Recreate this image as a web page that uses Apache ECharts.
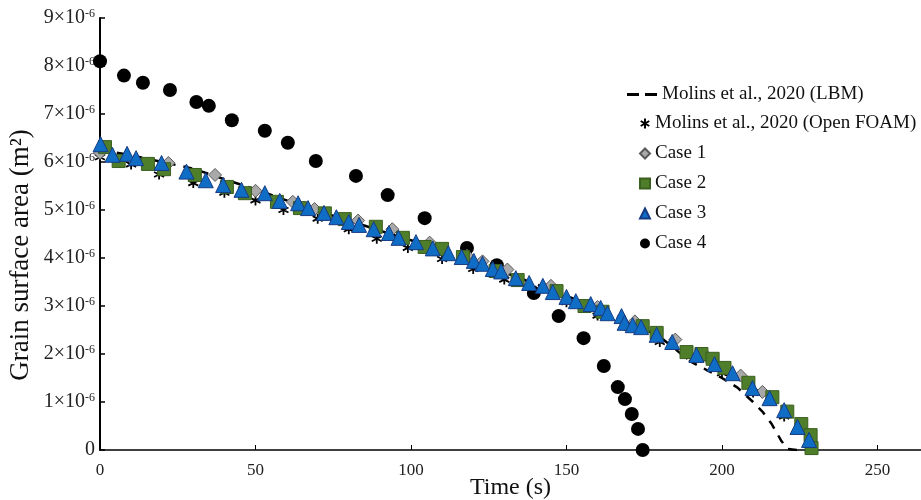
<!DOCTYPE html>
<html>
<head>
<meta charset="utf-8">
<script src="https://cdn.jsdelivr.net/npm/echarts@6/dist/echarts.min.js"></script>
<style>html,body{margin:0;padding:0;background:#fff}#c{width:921px;height:500px}</style>
</head>
<body>
<div id="c"></div>
<script>
// Values: time in s, area in units of 1e-6 m^2
const seriesNames = ['Molins et al., 2020 (LBM)', 'Molins et al., 2020 (Open FOAM)', 'Case 1', 'Case 2', 'Case 3', 'Case 4'];
const xTicks = [0, 50, 100, 150, 200, 250];
const yTicks = [0, 1, 2, 3, 4, 5, 6, 7, 8, 9];

const lbmTime = [0, 10, 20, 30, 40, 50, 60, 70, 80, 90, 100, 110, 120, 130, 140, 150, 160, 170, 180, 185, 190, 195, 200, 205, 210, 213, 216, 219, 221, 224, 228];
const lbmArea = [6.25, 6.14, 6.0, 5.86, 5.64, 5.43, 5.2, 4.98, 4.78, 4.57, 4.37, 4.15, 3.93, 3.7, 3.46, 3.21, 2.96, 2.68, 2.36, 2.1, 1.84, 1.67, 1.5, 1.3, 1.0, 0.8, 0.54, 0.2, 0.02, 0, 0];

const foamTime = [0, 10, 19, 30, 40, 50, 59, 70, 80, 89, 99, 110, 120, 130, 140, 150, 160, 170, 180, 190, 200, 210, 220];
const foamArea = [6.1, 5.95, 5.74, 5.56, 5.36, 5.2, 5.0, 4.82, 4.6, 4.4, 4.21, 3.98, 3.77, 3.55, 3.32, 3.08, 2.8, 2.55, 2.25, 1.95, 1.6, 1.2, 0.7];

const case1Time = [0, 22, 37, 50, 62, 69, 83, 94, 106, 118, 123, 131, 145, 160, 172, 185, 195, 206, 213];
const case1Area = [6.19, 5.98, 5.73, 5.4, 5.17, 5.02, 4.78, 4.6, 4.32, 4.05, 3.93, 3.76, 3.42, 2.98, 2.68, 2.3, 1.95, 1.55, 1.21];

const case2Time = [1.6, 6, 15.4, 20.6, 30.5, 40.8, 46.6, 56.9, 64.3, 72.3, 78.7, 88.7, 97.4, 104.4, 110, 116.7, 127.2, 134.3, 146.8, 155.8, 161.6, 174.5, 179, 188.6, 193.4, 197, 200.8, 208.5, 216.2, 221, 225.5, 228.5, 228.8];
const case2Area = [6.31, 6.02, 5.96, 5.85, 5.73, 5.48, 5.35, 5.17, 5.04, 4.93, 4.81, 4.65, 4.42, 4.23, 4.19, 4.02, 3.73, 3.54, 3.31, 3.0, 2.88, 2.58, 2.44, 2.04, 2.0, 1.9, 1.71, 1.4, 1.1, 0.8, 0.54, 0.31, 0.04];

const case3Time = [0.2, 4, 8.7, 11.6, 19.8, 27.8, 34, 39.6, 45.5, 53, 57.8, 63.7, 66.9, 72, 76, 80, 83.3, 88, 92.9, 96, 101.6, 107, 112, 116.3, 120.2, 123, 126.3, 129, 133.7, 138, 142.4, 145.6, 150, 153, 157.8, 161, 163.2, 167.7, 168.7, 171.3, 174, 179, 184, 191.8, 197.6, 203.4, 209.8, 215.3, 220, 224.3, 228];
const case3Area = [6.37, 6.15, 6.17, 6.08, 5.98, 5.8, 5.62, 5.52, 5.42, 5.35, 5.19, 5.14, 5.04, 4.94, 4.85, 4.75, 4.69, 4.6, 4.52, 4.42, 4.33, 4.2, 4.1, 4.02, 3.94, 3.88, 3.77, 3.72, 3.58, 3.48, 3.42, 3.29, 3.19, 3.1, 3.04, 2.96, 2.85, 2.79, 2.65, 2.6, 2.56, 2.4, 2.25, 1.98, 1.79, 1.6, 1.29, 1.08, 0.83, 0.48, 0.21];

const case4Time = [0, 7.7, 13.8, 22.5, 31, 35, 42.4, 53, 60.4, 69.4, 82.3, 92.5, 104.4, 118, 127.6, 139.5, 147.5, 155.5, 162, 166.5, 168.8, 171, 173, 174.5];
const case4Area = [8.1, 7.8, 7.65, 7.5, 7.25, 7.17, 6.87, 6.65, 6.4, 6.02, 5.71, 5.31, 4.83, 4.21, 3.85, 3.27, 2.79, 2.33, 1.75, 1.31, 1.06, 0.75, 0.44, 0.0];

const zip = (a, b) => a.map((v, i) => [v, b[i]]);
const FONT = 'Liberation Serif';
const starPath = 'path://M5 0L5 10M0.7 2.5L9.3 7.5M0.7 7.5L9.3 2.5';
const dashPath = 'path://M0 0L8 0L8 2L0 2ZM12 0L20 0L20 2L12 2Z';
const legendText = {fontFamily: FONT, fontSize: 19, color: '#111'};

const chart = echarts.init(document.getElementById('c'), null, {renderer: 'canvas'});
chart.setOption({
  animation: false,
  backgroundColor: '#fff',
  textStyle: {fontFamily: FONT},
  grid: {left: 100, right: 0, top: 18, bottom: 50, containLabel: false, outerBoundsMode: 'none'},
  legend: [
    {
      orient: 'vertical', left: 622, top: 80, itemWidth: 30, itemHeight: 10,
      textStyle: legendText,
      data: [{name: seriesNames[0], icon: dashPath}]
    },
    {
      orient: 'vertical', left: 634, top: 109, itemWidth: 10, itemHeight: 10, itemGap: 11,
      textStyle: legendText,
      data: [
        {name: seriesNames[1], icon: starPath},
        {name: seriesNames[2], icon: 'diamond'},
        {name: seriesNames[3], icon: 'rect'},
        {name: seriesNames[4], icon: 'triangle'},
        {name: seriesNames[5], icon: 'circle'}
      ]
    }
  ],
  xAxis: {
    type: 'value', min: 0, max: 264, interval: 50,
    name: 'Time (s)', nameLocation: 'middle', nameGap: 38, nameMoveOverlap: false,
    nameTextStyle: {fontFamily: FONT, fontSize: 24, color: '#111', verticalAlign: 'middle', lineHeight: 24},
    axisLine: {show: true, lineStyle: {color: '#000', width: 1.5}},
    axisTick: {show: true, inside: true, length: 5, lineStyle: {color: '#000'}, customValues: xTicks},
    axisLabel: {margin: 12, fontFamily: FONT, fontSize: 17, color: '#222', customValues: xTicks},
    splitLine: {show: false}
  },
  yAxis: {
    type: 'value', min: 0, max: 9, interval: 1,
    name: 'Grain surface area (m²)', nameLocation: 'middle', nameGap: 66, nameMoveOverlap: false,
    nameTextStyle: {fontFamily: FONT, fontSize: 27, color: '#111', padding: [0, 42, 0, 0]},
    axisLine: {show: true, lineStyle: {color: '#000', width: 2}},
    axisTick: {show: true, inside: true, length: 5, lineStyle: {color: '#000', width: 1.5}},
    axisLabel: {
      margin: 5, color: '#222', fontFamily: FONT, fontSize: 20,
      formatter: v => v === 0 ? '{b|0}' : '{b|' + v + '×10}{s|-6}',
      rich: {
        b: {fontFamily: FONT, fontSize: 20, color: '#222'},
        s: {fontFamily: FONT, fontSize: 12, color: '#222', padding: [0, 0, 9, 0]}
      }
    },
    splitLine: {show: false}
  },
  series: [
    {
      name: seriesNames[0], type: 'line', data: zip(lbmTime, lbmArea), symbol: 'none', smooth: false, z: 2,
      itemStyle: {color: '#000'},
      lineStyle: {color: '#000', width: 2.5, type: [9, 8]}
    },
    {
      name: seriesNames[1], type: 'scatter', data: zip(foamTime, foamArea), symbol: starPath, symbolSize: 10, z: 3,
      itemStyle: {color: '#000', borderColor: '#000', borderWidth: 1.8, opacity: 1}
    },
    {
      name: seriesNames[2], type: 'scatter', data: zip(case1Time, case1Area), symbol: 'diamond', symbolSize: 13, z: 4,
      itemStyle: {color: '#a9a9a9', borderColor: '#5a5a5a', borderWidth: 1, opacity: 1}
    },
    {
      name: seriesNames[3], type: 'scatter', data: zip(case2Time, case2Area), symbol: 'rect', symbolSize: 13, z: 5,
      itemStyle: {color: '#4f7e2b', borderColor: '#3a5f1e', borderWidth: 1, opacity: 1}
    },
    {
      name: seriesNames[4], type: 'scatter', data: zip(case3Time, case3Area), symbol: 'triangle', symbolSize: 15, z: 6,
      itemStyle: {color: '#106dc6', borderColor: '#173b82', borderWidth: 1, opacity: 1}
    },
    {
      name: seriesNames[5], type: 'scatter', data: zip(case4Time, case4Area), symbol: 'circle', symbolSize: 14, z: 1,
      itemStyle: {color: '#000', opacity: 1}
    }
  ]
});
</script>
</body>
</html>
